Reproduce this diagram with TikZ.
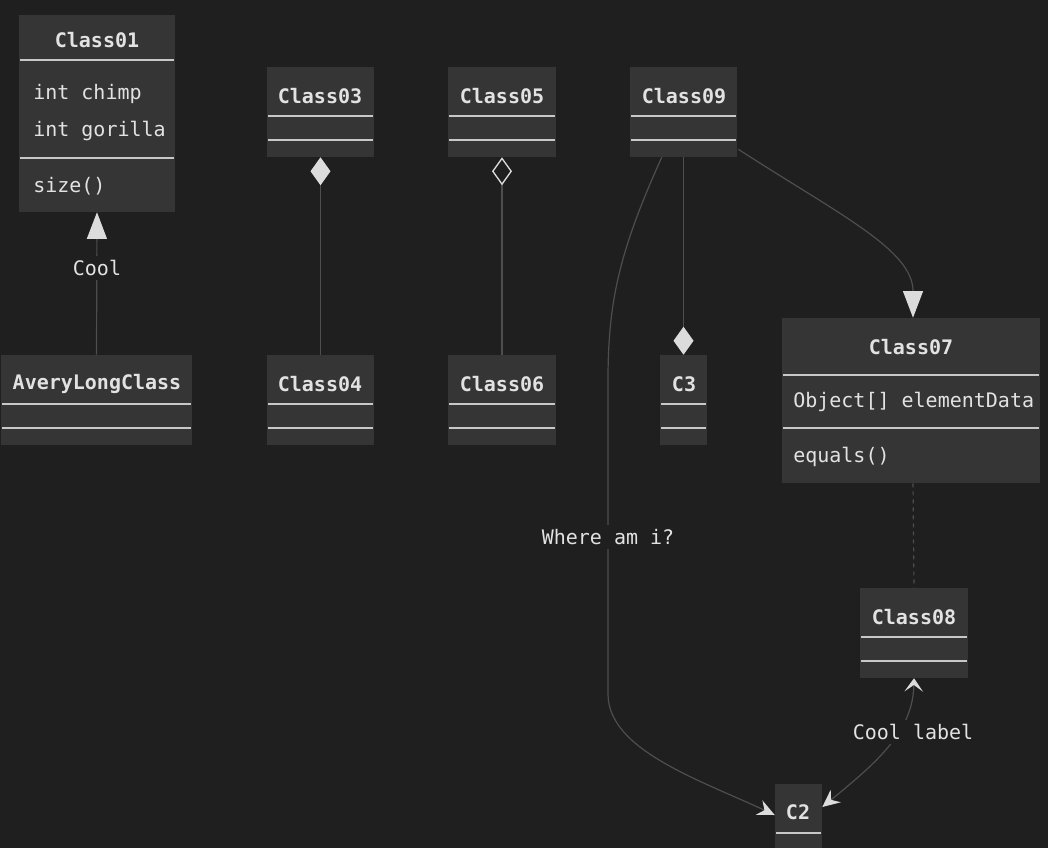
\documentclass[tikz,border=0pt]{standalone}
\usepackage{fontspec}
\newfontfamily\umlfont{DejaVu Sans Mono}
\usetikzlibrary{arrows.meta,fit,calc}
\definecolor{bgdark}{HTML}{1F1F1F}
\definecolor{boxfill}{HTML}{353535}
\definecolor{rulegray}{HTML}{C8C8C8}
\definecolor{inkgray}{HTML}{E2E2E2}
\definecolor{edgegray}{HTML}{4E4E4E}
\definecolor{tipgray}{HTML}{DCDCDC}
\tikzset{
  classbox/.style={fill=boxfill, inner sep=0pt},
  divider/.style={draw=rulegray, line width=1pt},
  titletext/.style={text=inkgray, font=\fontsize{15}{18}\umlfont\bfseries, inner sep=0pt},
  membertext/.style={text=inkgray, font=\fontsize{15}{18}\umlfont, inner sep=0pt, anchor=west},
  edge/.style={draw=edgegray, line width=0.9pt},
  lbl/.style={fill=bgdark, text=inkgray, font=\fontsize{15}{18}\umlfont, inner sep=3pt},
  bigtri/.style={-{Triangle[length=20pt,width=15pt,color=tipgray]}},
  fulldia/.style={-{Diamond[length=21pt,width=15pt,color=tipgray]}},
  opendia/.style={-{Diamond[open,length=21pt,width=15pt,color=tipgray,line width=1pt]}},
  barbtip/.tip={Stealth[length=13pt,width=12pt,inset=4.5pt,color=tipgray]},
  chevtip/.tip={Stealth[length=10pt,width=14pt,inset=5pt,color=tipgray]},
}
\begin{document}
\begin{tikzpicture}[x=0.75pt,y=-0.75pt]
    \fill[bgdark] (0,0) rectangle (1048,848);
    \useasboundingbox (0,0) rectangle (1048,848);
    \clip (0,0) rectangle (1048,848);
    % class boxes
    \node[classbox, fit={(19,15) (175,212)}] (c01) {};
    \node[classbox, fit={(1,355) (192,445)}] (avery) {};
    \node[classbox, fit={(267,67) (374,157)}] (c03) {};
    \node[classbox, fit={(267,355) (374,445)}] (c04) {};
    \node[classbox, fit={(448,67) (556,157)}] (c05) {};
    \node[classbox, fit={(448,355) (556,445)}] (c06) {};
    \node[classbox, fit={(630,67) (737,157)}] (c09) {};
    \node[classbox, fit={(660,355) (707,445)}] (c3) {};
    \node[classbox, fit={(782,318) (1040,483)}] (c07) {};
    \node[classbox, fit={(860,588) (968,678)}] (c08) {};
    \node[classbox, fit={(775,784) (822,874)}] (c2) {};
    % compartment rules
    \foreach \xa/\xb/\yy in {19/175/60, 19/175/158, 1/192/404, 1/192/428,
        267/374/116, 267/374/140, 267/374/404, 267/374/428,
        448/556/116, 448/556/140, 448/556/404, 448/556/428,
        630/737/116, 630/737/140, 660/707/404, 660/707/428,
        782/1040/375, 782/1040/428, 860/968/637, 860/968/661,
        775/822/833, 775/822/857}
        \draw[divider] (\xa+1,\yy) -- (\xb-1,\yy);
    % titles and members
    \node[titletext] (c01t) at (97,40) {Class01};
    \node[membertext] (c01a) at (33,94) {int chimp};
    \node[membertext] (c01b) at (33,131) {int gorilla};
    \node[membertext] (c01c) at (33,186) {size()};
    \node[titletext] (averyt) at (97,384) {AveryLongClass};
    \node[titletext] (c03t) at (320,96) {Class03};
    \node[titletext] (c04t) at (320,384) {Class04};
    \node[titletext] (c05t) at (502,96) {Class05};
    \node[titletext] (c06t) at (502,384) {Class06};
    \node[titletext] (c09t) at (684,96) {Class09};
    \node[titletext] (c3t) at (684,384) {C3};
    \node[titletext] (c07t) at (911,347) {Class07};
    \node[membertext] (c07a) at (793,402) {Object[] elementData};
    \node[membertext] (c07b) at (793,457) {equals()};
    \node[titletext] (c08t) at (914,617) {Class08};
    \node[titletext] (c2t) at (798,812) {C2};
    % relations
    \draw[edge, bigtri] (avery.north) -- (c01.south);
    \node[lbl] (lcool) at (97,268) {Cool};
    \draw[edge, fulldia] (c04.north) -- (c03.south);
    \draw[edge, opendia] (c06.north) -- (c05.south);
    \draw[edge, fulldia] (c09.south) -- (c3.north);
    \draw[edge, bigtri] ($(c09.south east)+(1,-8)$) .. controls (840,215) and (913,250) .. ([xshift=1.5pt]c07.north);
    \draw[edge, -barbtip]
        ($(c09.south west)+(32,0)$) .. controls (620,250) and (608,300) .. (608,380)
        -- node[lbl] (lwhere) {Where am i?} (608,694)
        .. controls (608,750) and (700,780) .. ([yshift=10.5pt]c2.west);
    \draw[edge, dash pattern=on 3pt off 3pt] ([xshift=1.5pt]c07.south) -- (c08.north);
    \draw[edge, barbtip-chevtip]
        ([yshift=16.5pt]c2.east) .. controls (880,760) and (913,730) .. (c08.south);
    \node[lbl] (lcoollbl) at (913,732) {Cool label};
\end{tikzpicture}
\end{document}
